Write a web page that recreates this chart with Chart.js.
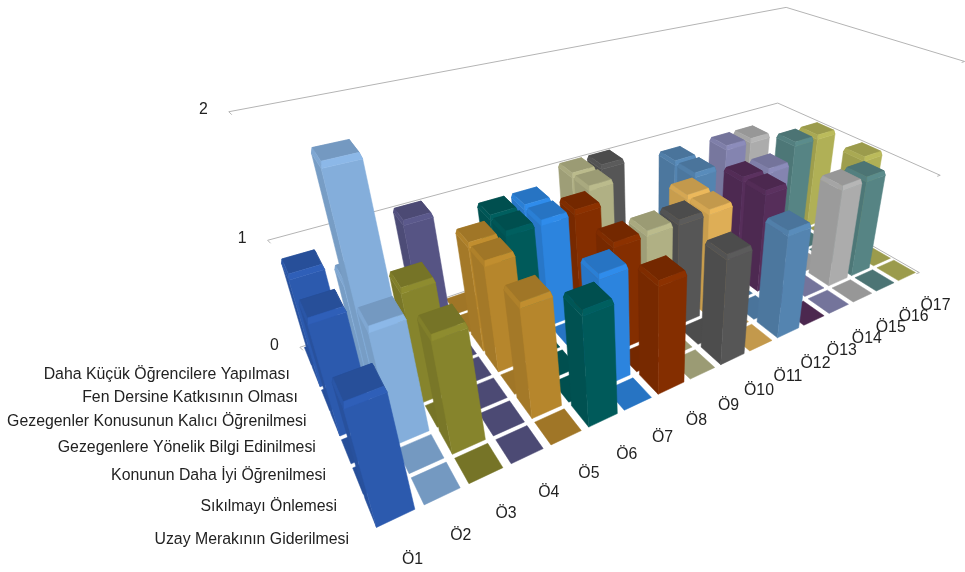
<!DOCTYPE html>
<html>
<head>
<meta charset="utf-8">
<title>Uzay konusu</title>
<style>
    html, body { margin: 0; padding: 0; background: #fff; }
    #wrap { width: 965px; height: 572px; }
</style>
<script src="https://cdn.jsdelivr.net/npm/chart.js@4"></script>
</head>
<body>
<div id="wrap"><canvas id="chart" width="965" height="572"></canvas></div>
<script>
const questions = ['Ö1', 'Ö2', 'Ö3', 'Ö4', 'Ö5', 'Ö6', 'Ö7', 'Ö8', 'Ö9', 'Ö10', 'Ö11', 'Ö12', 'Ö13', 'Ö14', 'Ö15', 'Ö16', 'Ö17'];

// front row first
const seriesNames = [
    'Uzay Merakının Giderilmesi',
    'Sıkılmayı Önlemesi',
    'Konunun Daha İyi Öğrenilmesi',
    'Gezegenlere Yönelik Bilgi Edinilmesi',
    'Gezegenler Konusunun Kalıcı Öğrenilmesi',
    'Fen Dersine Katkısının Olması',
    'Daha Küçük Öğrencilere Yapılması',
];

const uzayMeraki = [1, 0, 0, 0, 0, 1, 0, 1, 0, 1, 0, 1, 0, 0, 0, 0, 0];
const sikilmayiOnleme = [0, 0, 1, 0, 1, 0, 1, 0, 0, 0, 0, 0, 0, 0, 1, 1, 0];
const dahaIyiOgrenme = [0, 1, 0, 0, 0, 0, 0, 1, 1, 1, 1, 0, 1, 0, 0, 0, 1];
const bilgiEdinme = [1, 2, 1, 0, 1, 0, 0, 0, 0, 0, 1, 0, 1, 1, 0, 0, 0];
const kaliciOgrenme = [0, 1, 0, 0, 1, 1, 1, 1, 0, 0, 0, 1, 0, 0, 0, 1, 1];
const fenKatkisi = [1, 0, 0, 0, 0, 1, 1, 0, 1, 0, 0, 1, 0, 1, 1, 0, 0];
const kucukOgrenciler = [0, 0, 0, 1, 0, 0, 0, 0, 1, 1, 0, 0, 0, 0, 0, 0, 0];
const seriesValues = [uzayMeraki, sikilmayiOnleme, dahaIyiOgrenme, bilgiEdinme, kaliciOgrenme, fenKatkisi, kucukOgrenciler];

const valueTicks = [0, 1, 2];

const columnColors = ['#2c5aae', '#84aedb', '#86842c', '#565484', '#b6862c', '#005a5a', '#2c84de', '#842e00',
    '#b0b084', '#565656', '#deae56', '#5484b0', '#562e5a', '#8484b0', '#acacac', '#568484', '#b0b056'];

// where box corners land on the canvas: [column, row, value, px, py]
const cameraAnchors = [
    [0, 7, 0, 300, 347], [0, 7, 1, 267, 241], [0, 7, 2, 230, 114],
    [17, 7, 1, 777, 102], [17, 7, 2, 787, 6],
    [17, 0, 1, 943, 177],
    [0.1, 0.07, 0, 375, 528], [0.9, 0.07, 0, 413, 510], [0.1, 0.07, 0.96, 344, 408], [0.9, 0.07, 0.96, 388, 393],
    [5.1, 0.07, 0, 587, 428], [5.9, 0.07, 0, 615, 413], [5.1, 0.07, 0.96, 582, 318], [5.9, 0.07, 0.96, 613, 305],
    [9.1, 0.07, 0, 720, 365], [9.9, 0.07, 0, 752, 348], [9.1, 0.07, 0.96, 725, 260], [9.9, 0.07, 0.96, 752, 250],
    [11.1, 0.07, 0, 776, 338], [11.9, 0.07, 0, 812, 323], [11.1, 0.07, 0.96, 785, 235], [11.9, 0.07, 0.96, 810, 227],
    [16.1, 0.07, 0, 893, 282], [16.9, 0.07, 0, 915, 273], [16.1, 0.93, 0, 877, 272], [16.9, 0.93, 0, 890, 262],
];

function solveCamera() {
    const n = 11;
    const ata = Array.from({ length: n }, () => new Array(n + 1).fill(0));
    const addRow = (row, rhs) => {
        for (let i = 0; i < n; i++) {
            for (let j = 0; j < n; j++) ata[i][j] += row[i] * row[j];
            ata[i][n] += row[i] * rhs;
        }
    };
    cameraAnchors.forEach(([c, r, v, px, py]) => {
        const X = c / questions.length, Y = r / seriesNames.length, Z = v / 2;
        const u = px / 1000, w = py / 1000;
        addRow([X, Y, Z, 1, 0, 0, 0, 0, -u * X, -u * Y, -u * Z], u);
        addRow([0, 0, 0, 0, X, Y, Z, 1, -w * X, -w * Y, -w * Z], w);
    });
    for (let i = 0; i < n; i++) {
        let best = i;
        for (let k = i + 1; k < n; k++) if (Math.abs(ata[k][i]) > Math.abs(ata[best][i])) best = k;
        [ata[i], ata[best]] = [ata[best], ata[i]];
        for (let k = 0; k < n; k++) {
            if (k === i) continue;
            const f = ata[k][i] / ata[i][i];
            for (let j = i; j <= n; j++) ata[k][j] -= f * ata[i][j];
        }
    }
    return ata.map((row, i) => row[n] / row[i]);
}

const cam = solveCamera();

function project(X, Y, Z) {
    const d = cam[8] * X + cam[9] * Y + cam[10] * Z + 1;
    return [
        1000 * (cam[0] * X + cam[1] * Y + cam[2] * Z + cam[3]) / d,
        1000 * (cam[4] * X + cam[5] * Y + cam[6] * Z + cam[7]) / d,
    ];
}

function shade(hex, k) {
    const n = parseInt(hex.slice(1), 16);
    const ch = (v) => Math.min(255, Math.round(v * k));
    return `rgb(${ch(n >> 16)},${ch((n >> 8) & 255)},${ch(n & 255)})`;
}

function poly(ctx, pts, fill) {
    ctx.beginPath();
    pts.forEach((p, i) => (i ? ctx.lineTo(p[0], p[1]) : ctx.moveTo(p[0], p[1])));
    ctx.closePath();
    ctx.fillStyle = fill;
    ctx.fill();
    ctx.strokeStyle = fill;
    ctx.lineWidth = 0.5;
    ctx.stroke();
}

function drawBox(ctx, cx, cy, hw, hd, top, color) {
    const x0 = cx - hw, x1 = cx + hw, y0 = cy - hd, y1 = cy + hd;
    if (top <= 0) {
        poly(ctx, [project(x0, y0, 0), project(x1, y0, 0), project(x1, y1, 0), project(x0, y1, 0)], shade(color, 0.88));
        return;
    }
    // chamfered cap: side walls stop a little below the top, the cap is inset
    const ex = hw * 0.08, ey = hd * 0.1, zf = top - 0.02;
    const fl = project(x0, y0, zf), fr = project(x1, y0, zf), bl = project(x0, y1, zf), br = project(x1, y1, zf);
    const cfl = project(x0 + ex, y0 + ey, top), cfr = project(x1 - ex, y0 + ey, top);
    const cbl = project(x0 + ex, y1 - ey, top), cbr = project(x1 - ex, y1 - ey, top);
    const flb = project(x0, y0, 0), frb = project(x1, y0, 0), blb = project(x0, y1, 0);

    poly(ctx, [bl, fl, flb, blb], shade(color, 0.9));
    poly(ctx, [fl, fr, frb, flb], color);
    poly(ctx, [fr, br, cbr, cfr], shade(color, 0.88));
    poly(ctx, [bl, br, cbr, cbl], shade(color, 0.88));
    poly(ctx, [cbl, cbr, cfr, cfl], shade(color, 0.88));
    poly(ctx, [fl, fr, cfr, cfl], shade(color, 1.06));
    poly(ctx, [bl, fl, cfl, cbl], shade(color, 0.96));
}

const box3d = {
    id: 'box3d',
    beforeDatasetsDraw(chart) {
        const { ctx, scales } = chart;
        const xs = scales.x, ds = scales.depth, ys = scales.y;
        const fracX = (i) => (xs.getPixelForValue(i) - xs.left) / xs.width;
        const fracD = (i) => (ds.getPixelForValue(i) - ds.left) / ds.width;
        const fracZ = (v) => (ys.bottom - ys.getPixelForValue(v)) / ys.height;
        const hw = 0.4 / questions.length, hd = 0.43 / seriesNames.length;

        ctx.save();

        // wall lines at each value tick
        ctx.strokeStyle = '#b4b4b4';
        ctx.lineWidth = 1;
        valueTicks.forEach((v) => {
            const z = fracZ(v);
            const a = project(0, 1, z), b = project(1, 1, z), c = project(1, 0, z);
            ctx.beginPath();
            ctx.moveTo(a[0] + 3, a[1] + 3);
            ctx.lineTo(a[0], a[1]);
            ctx.lineTo(b[0], b[1]);
            ctx.lineTo(c[0], c[1]);
            ctx.lineTo(c[0] - 3, c[1] + 1);
            ctx.stroke();
        });

        // flat cells first, then bars from the far corner forward
        for (let pass = 0; pass < 2; pass++) {
            for (let r = seriesNames.length - 1; r >= 0; r--) {
                for (let c = questions.length - 1; c >= 0; c--) {
                    const value = chart.data.datasets[r].data[c];
                    if ((value > 0) !== (pass === 1)) continue;
                    drawBox(ctx, fracX(c), fracD(r), hw, hd, fracZ(value), chart.data.datasets[r].backgroundColor[c]);
                }
            }
        }

        // axis text
        ctx.font = '15.85px "Liberation Sans", Arial, sans-serif';
        ctx.fillStyle = '#222';
        ctx.textBaseline = 'middle';
        ctx.textAlign = 'center';
        questions.forEach((q, c) => {
            const p = project(fracX(c), -1.0 / seriesNames.length, 0);
            ctx.fillText(q, p[0], p[1] + 8 + (c - 8) * 0.6);
        });
        ctx.textAlign = 'right';
        seriesNames.forEach((name, r) => {
            const p = project(-0.3 / questions.length, fracD(r), 0);
            ctx.fillText(name, p[0] - 2, p[1] + 18 - r * 0.8);
        });
        valueTicks.forEach((v) => {
            const p = project(0, 1, fracZ(v));
            ctx.fillText(String(v), p[0] - 21, p[1] - 2);
        });

        ctx.restore();
        return false;
    },
};

new Chart(document.getElementById('chart'), {
    type: 'bar',
    data: {
        labels: questions,
        datasets: seriesNames.map((name, r) => ({
            label: name,
            data: seriesValues[r],
            backgroundColor: columnColors,
        })),
    },
    options: {
        responsive: false,
        animation: false,
        layout: { padding: 0 },
        plugins: { legend: { display: false }, tooltip: { enabled: false } },
        scales: {
            x: { display: false },
            y: { display: false, min: 0, max: 2 },
            depth: { type: 'category', axis: 'x', labels: seriesNames, offset: true, display: false },
        },
    },
    plugins: [box3d],
});
</script>
</body>
</html>
